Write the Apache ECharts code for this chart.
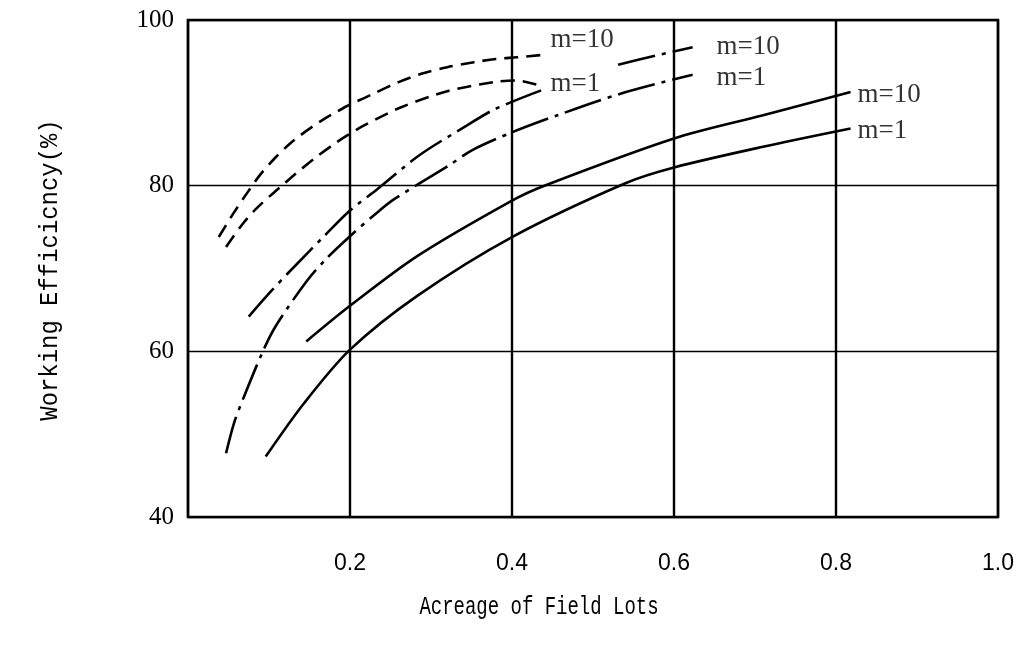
<!DOCTYPE html>
<html>
<head>
<meta charset="utf-8">
<script src="https://cdn.jsdelivr.net/npm/echarts@6/dist/echarts.min.js"></script>
<style>html,body{margin:0;padding:0;background:#fff;}#c{width:1027px;height:650px;}</style>
</head>
<body>
<div id="c"></div>
<script>
// x: acreage of field lots, y: working efficiency (%)
const xTicks = [0, 0.2, 0.4, 0.6, 0.8, 1.0];
const yTicks = [40, 60, 80, 100];
const dashedM10 = [[0.038,73.8],[0.057,76.8],[0.075,79.4],[0.089,81.3],[0.108,83.4],[0.125,85.0],[0.139,86.1],[0.164,87.8],[0.185,89.0],[0.2,89.8],[0.218,90.6],[0.231,91.2],[0.26,92.5],[0.288,93.5],[0.32,94.3],[0.353,94.9],[0.38,95.3],[0.406,95.5],[0.44,95.8]];
const dashedM1 = [[0.047,72.6],[0.066,75.2],[0.083,77.1],[0.104,79.0],[0.117,80.1],[0.130,81.2],[0.155,83.2],[0.177,84.8],[0.197,86.1],[0.218,87.3],[0.264,89.5],[0.32,91.4],[0.378,92.5],[0.406,92.7],[0.43,92.2]];
const dashDotM10 = [[0.075,64.2],[0.102,67.2],[0.126,69.7],[0.168,73.9],[0.2,77.0],[0.234,79.6],[0.286,83.7],[0.345,87.3],[0.378,89.2],[0.436,91.5],[0.48,'-'],[0.531,94.6],[0.577,95.7],[0.623,96.7]];
const dashDotM1 = [[0.047,47.7],[0.057,51.4],[0.069,54.5],[0.092,59.9],[0.108,63.0],[0.146,68.4],[0.171,71.2],[0.2,73.9],[0.234,76.8],[0.255,78.4],[0.323,82.5],[0.351,84.3],[0.399,86.4],[0.456,88.5],[0.534,91.1],[0.623,93.4]];
const solidM10 = [[0.146,61.2],[0.2,65.5],[0.283,71.5],[0.4,78.2],[0.44,80.0],[0.6,85.7],[0.71,88.5],[0.818,91.3]];
const solidM1 = [[0.096,47.3],[0.143,53.7],[0.2,60.2],[0.283,66.7],[0.4,73.8],[0.54,80.3],[0.6,82.2],[0.71,84.7],[0.818,86.9]];
const curveLabels = [[0.447,97.6,'m=10'],[0.447,92.3,'m=1'],[0.652,96.8,'m=10'],[0.652,93.0,'m=1'],[0.826,91.0,'m=10'],[0.826,86.6,'m=1']];
const xTitle = 'Acreage of Field Lots';
const yTitle = 'Working Efficicncy(%)';

const chart = echarts.init(document.getElementById('c'), null, {renderer:'canvas'});
function line(data, type){
  return {type:'line', data:data, smooth:0.3, symbol:'none', silent:true,
    lineStyle:{color:'#000', width:2.6, type:type}};
}
chart.setOption({
  animation:false,
  backgroundColor:'#fff',
  grid:{left:188, right:29, top:20, bottom:133, show:true, borderColor:'#000', borderWidth:2.5, backgroundColor:'transparent'},
  xAxis:{type:'value', min:xTicks[0], max:xTicks[xTicks.length-1], interval:0.2,
    axisLine:{show:false}, axisTick:{show:false},
    axisLabel:{margin:35, color:'#000', fontSize:23, fontFamily:"'Liberation Sans Narrow','Liberation Sans',sans-serif",
      formatter:v=> v===0 ? '' : v.toFixed(1)},
    splitLine:{show:true, lineStyle:{color:'#000', width:2.4}}},
  yAxis:{type:'value', min:yTicks[0], max:yTicks[yTicks.length-1], interval:20,
    axisLine:{show:false}, axisTick:{show:false},
    axisLabel:{margin:14, color:'#000', fontSize:25, fontFamily:"'Liberation Serif',serif"},
    splitLine:{show:true, lineStyle:{color:'#000', width:1.3}}},
  graphic:[
    {type:'text', x:539, y:607, scaleX:0.73, style:{text:xTitle, font:"26px 'Liberation Mono', monospace", fill:'#000', align:'center', verticalAlign:'middle'}},
    {type:'text', x:50, y:270, rotation:Math.PI/2, scaleX:0.92, style:{text:yTitle, font:"26px 'Liberation Mono', monospace", fill:'#000', align:'center', verticalAlign:'middle'}}
  ],
  series:[
    line(dashedM10, [14,8]),
    line(dashedM1, [14,8]),
    line(dashDotM10, [38,7,4,7]),
    line(dashDotM1, [38,7,4,7]),
    line(solidM10, 'solid'),
    line(solidM1, 'solid'),
    {type:'scatter', data:curveLabels, symbolSize:1, itemStyle:{color:'rgba(0,0,0,0)'}, silent:true,
     label:{show:true, position:'right', distance:0, formatter:p=>p.data[2], color:'#000', fontSize:27, fontFamily:"'Liberation Serif',serif"}}
  ]
});
</script>
</body>
</html>
